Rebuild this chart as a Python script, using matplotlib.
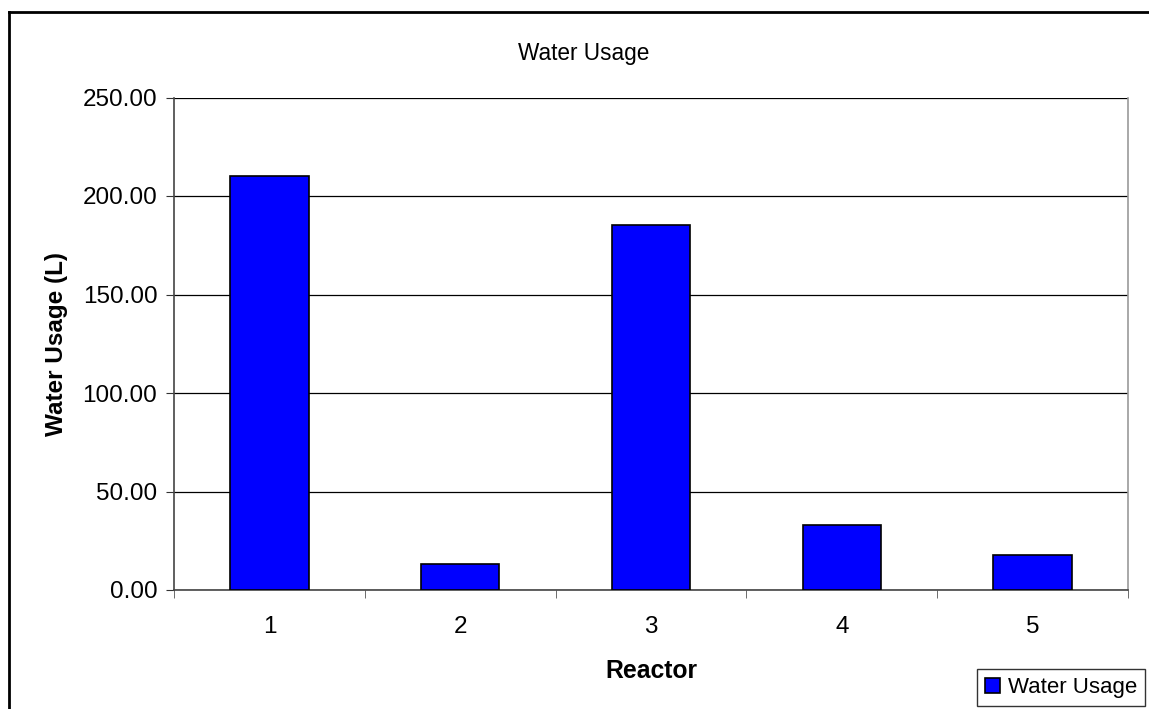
import matplotlib
matplotlib.use("Agg")
import matplotlib.pyplot as plt
from matplotlib.lines import Line2D
import numpy as np

plt.rcParams['font.family'] = ['Liberation Sans', 'DejaVu Sans']

categories = ["1", "2", "3", "4", "5"]
water_usage = [210.0, 13.3, 185.1, 33.0, 17.8]
yticks = [0, 50, 100, 150, 200, 250]

W, H = 1149, 709
fig = plt.figure(figsize=(W / 100, H / 100), dpi=100)
ax_b, ax_t = 590, 97.5
ax_l, ax_r = 174, 1128
ax = fig.add_axes([ax_l / W, 1 - ax_b / H, (ax_r - ax_l) / W, (ax_b - ax_t) / H])

x = np.arange(len(categories))
ax.bar(x, water_usage, width=0.41, color="#0000FF", edgecolor="black",
       linewidth=1.2, label="Water Usage", zorder=3)

ax.set_xlim(-0.5, len(categories) - 0.5)
ax.set_ylim(0, 250)
ax.set_yticks(yticks)
ax.set_yticklabels([f"{v:.2f}" for v in yticks], fontsize=17.5)
ax.yaxis.grid(True, color="black", linewidth=0.9, zorder=0)
ax.set_axisbelow(True)

ax.set_xticks(x)
ax.set_xticklabels(categories, fontsize=17.5)
ax.set_xticks(np.arange(-0.5, len(categories)), minor=True)
ax.tick_params(axis='x', which='major', length=0, pad=18.5)
ax.tick_params(axis='x', which='minor', length=6, color="#555555", direction='out')
ax.tick_params(axis='y', length=6, color="#333333", direction='out', pad=6)

for s in ["left", "bottom"]:
    ax.spines[s].set_color("#444444")
    ax.spines[s].set_linewidth(1.2)
ax.spines["top"].set_visible(False)
ax.spines["right"].set_color("#999999")
ax.spines["right"].set_linewidth(1.2)

ph = ax_b - ax_t
pw = ax_r - ax_l
xl = ax.set_xlabel("Reactor", fontsize=17.8, fontweight="bold")
xl.set_va("baseline")
ax.xaxis.set_label_coords(0.5, (ax_b - 678) / ph)
yl = ax.set_ylabel("Water Usage (L)", fontsize=17.5, fontweight="bold")
yl.set_va("center")
ax.yaxis.set_label_coords((57 - ax_l) / pw, 0.5)

fig.text(584 / W, 1 - 60 / H, "Water Usage", fontsize=16.3, ha="center", va="baseline")

leg = ax.legend(loc="lower right", bbox_to_anchor=(1145 / W, 1 - 706 / H),
                bbox_transform=fig.transFigure, fontsize=16, frameon=True,
                fancybox=False, edgecolor="black", handlelength=0.7,
                handleheight=0.7, handletextpad=0.35, borderpad=0.35,
                borderaxespad=0)
leg.get_frame().set_linewidth(1.0)

# outer chart-area border (top and left edges visible in the reference)
bx, by = 9 / W, 1 - 12 / H
fig.lines.append(Line2D([bx, 1.0], [by, by], transform=fig.transFigure,
                        color="black", linewidth=2))
fig.lines.append(Line2D([bx, bx], [by, 0.0], transform=fig.transFigure,
                        color="black", linewidth=2))

fig.savefig("out.png", dpi=100)
